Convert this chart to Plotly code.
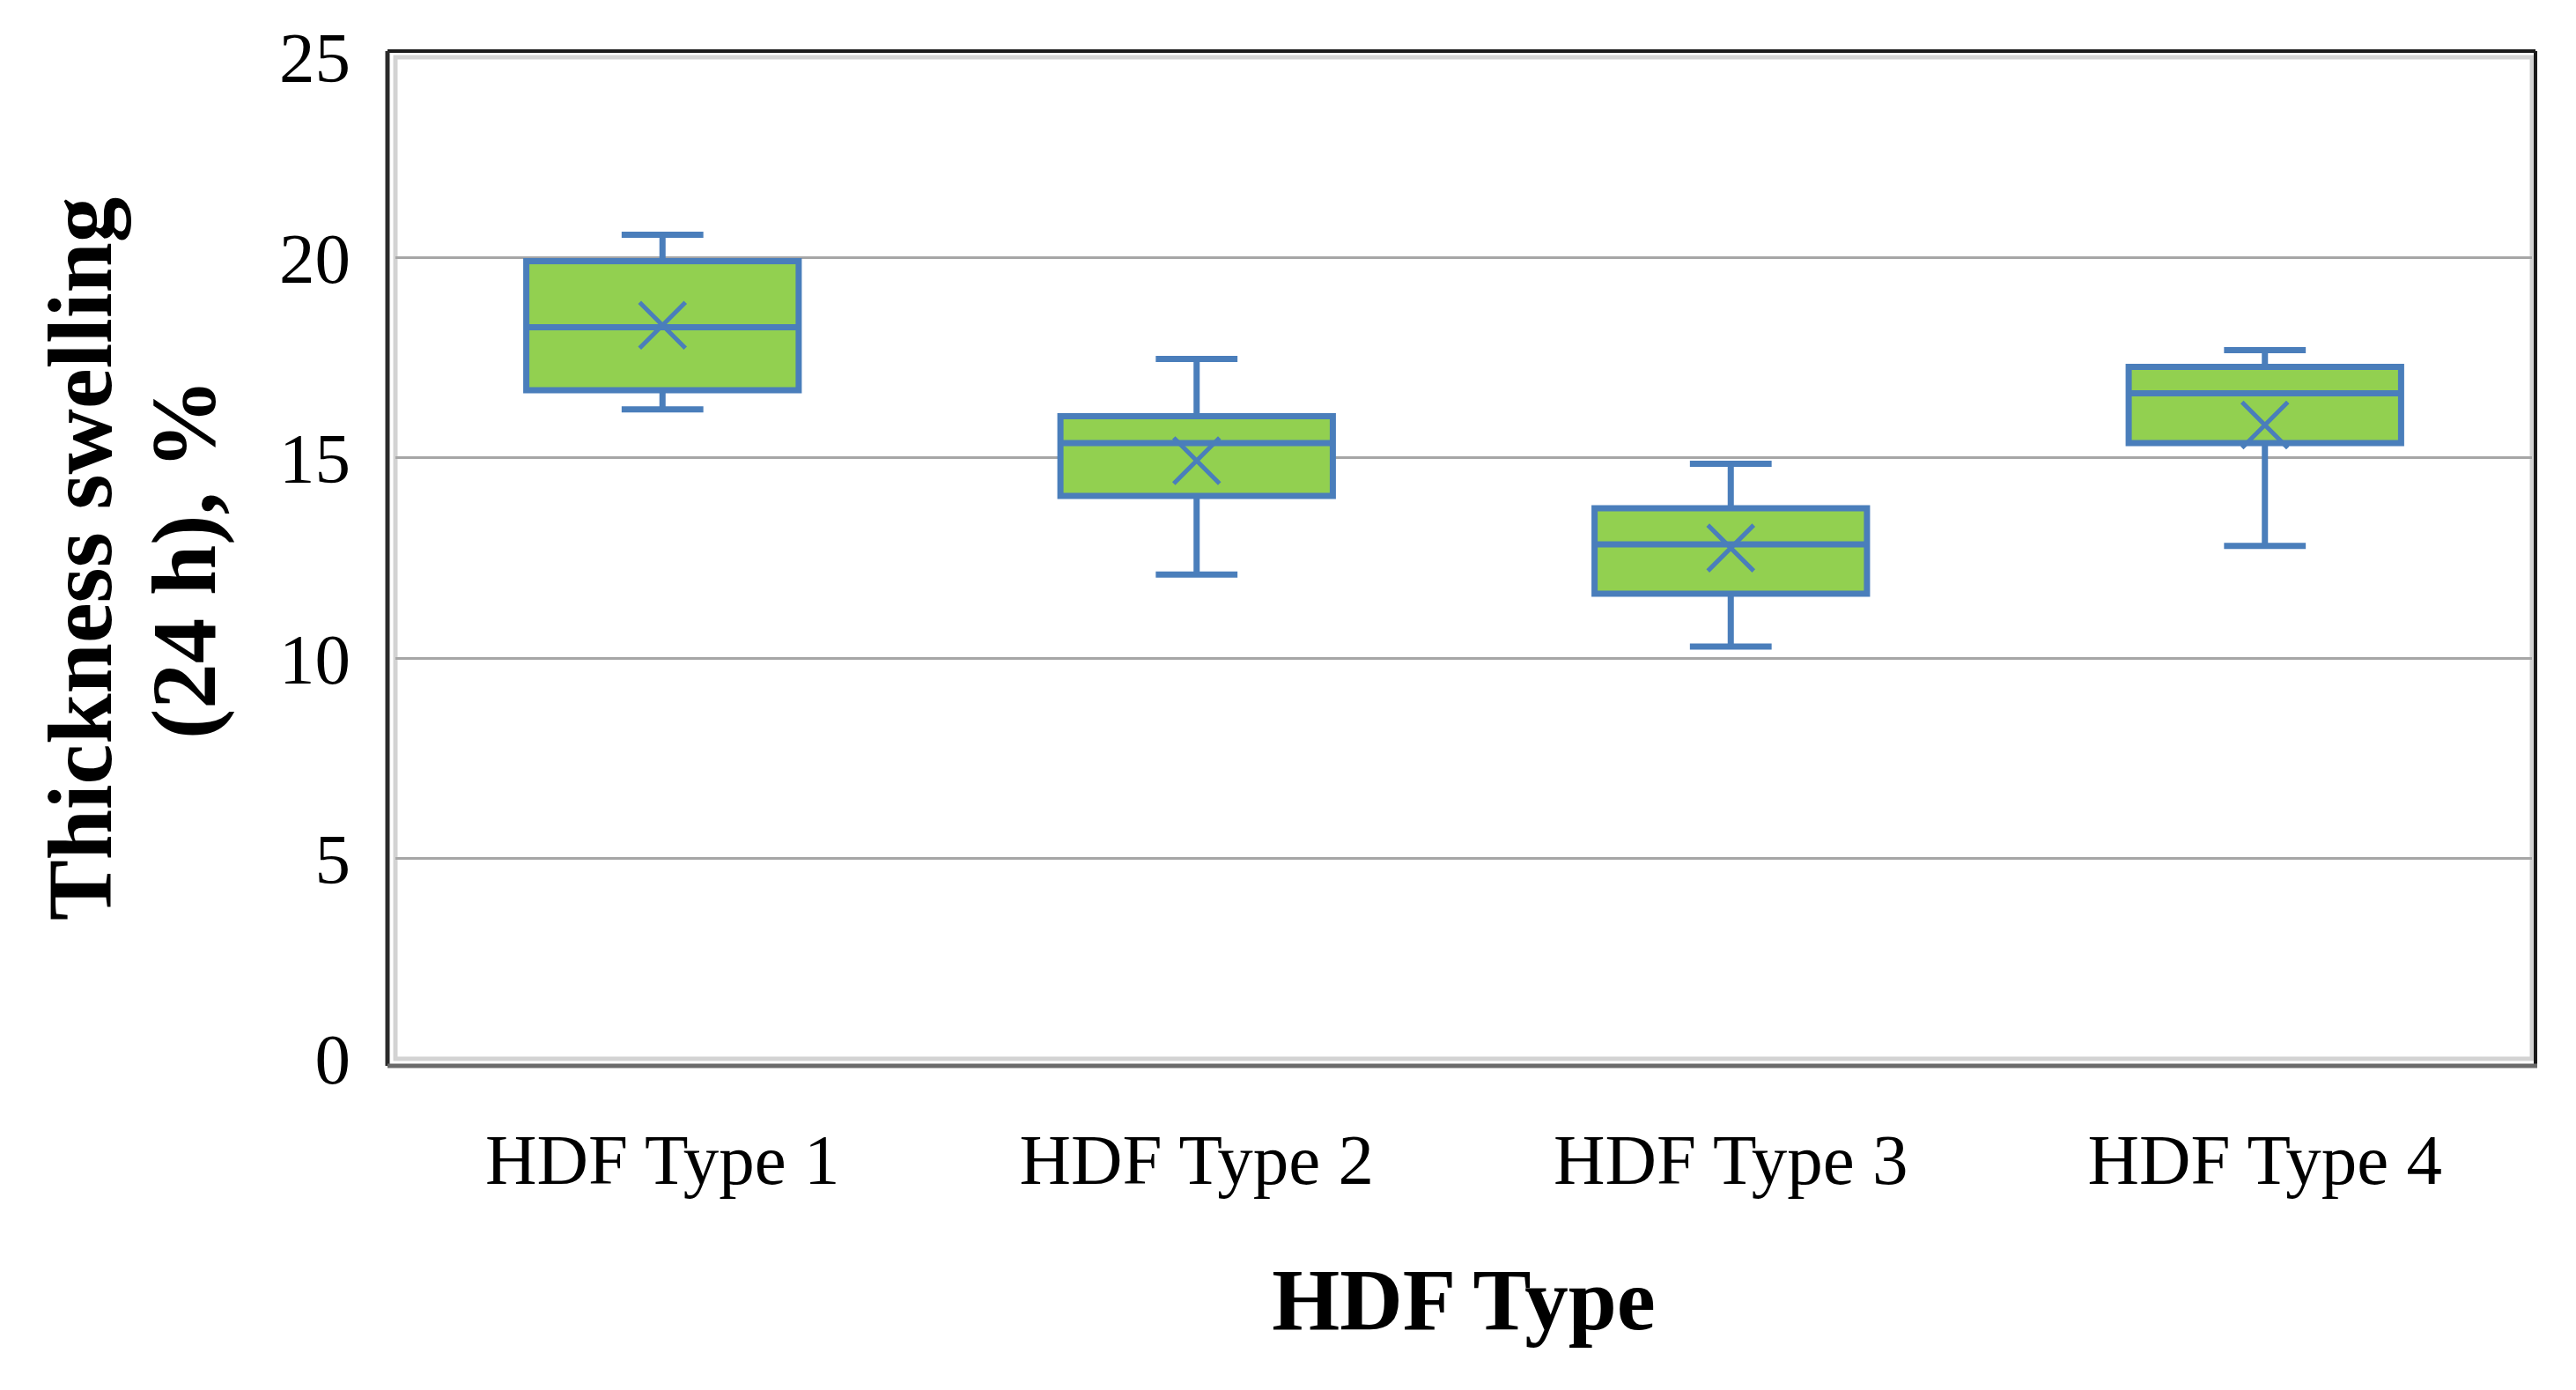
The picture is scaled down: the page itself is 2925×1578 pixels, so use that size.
import plotly.graph_objects as go

categories = ["HDF Type 1", "HDF Type 2", "HDF Type 3", "HDF Type 4"]
lower_whisker = [16.21, 12.09, 10.29, 12.80]
q1_values = [16.69, 14.05, 11.61, 15.37]
median_values = [18.26, 15.37, 12.84, 16.61]
q3_values = [19.91, 16.04, 13.74, 17.27]
upper_whisker = [20.57, 17.47, 14.85, 17.69]
mean_values = [18.31, 14.93, 12.75, 15.82]
y_ticks = [0, 5, 10, 15, 20, 25]

W, H = 2925, 1578
DX, DY = -11, -7
L, R, T, B = 452 + DX, 47 - DX, 64 + DY, 377 - DY
PW, PH = W - L - R, H - T - B

def px(x):
    return (x + DX - L) / PW

def py(y):
    return (H - B - (y + DY)) / PH

FONT = "Liberation Serif"
BLUE = "#4A7EBB"
GREEN = "#92D050"

fig = go.Figure()
fig.add_trace(go.Box(
    x=categories,
    q1=q1_values, median=median_values, q3=q3_values,
    lowerfence=lower_whisker, upperfence=upper_whisker,
    boxpoints=False,
    fillcolor=GREEN,
    line=dict(color=BLUE, width=7),
    width=0.51,
    whiskerwidth=0.3,
    showlegend=False,
    hoverinfo="skip",
))
fig.add_trace(go.Scatter(
    x=categories, y=mean_values, mode="markers",
    marker=dict(symbol="x-thin", size=52, line=dict(color=BLUE, width=5)),
    showlegend=False, hoverinfo="skip",
))

shapes = []
shapes.append(dict(type="rect", xref="paper", yref="paper", x0=0, x1=1, y0=0, y1=1,
                   line=dict(color="#D3D3D3", width=5), layer="below"))
shapes.append(dict(type="line", xref="paper", yref="paper", x0=px(443), x1=px(2882), y0=py(57), y1=py(57),
                   line=dict(color="#1A1A1A", width=4)))
shapes.append(dict(type="line", xref="paper", yref="paper", x0=px(2882), x1=px(2882), y0=py(57), y1=py(1209),
                   line=dict(color="#1A1A1A", width=4)))
shapes.append(dict(type="line", xref="paper", yref="paper", x0=px(443), x1=px(443), y0=py(57), y1=py(1209),
                   line=dict(color="#2A2A2A", width=5)))
shapes.append(dict(type="line", xref="paper", yref="paper", x0=px(443), x1=px(2884), y0=py(1209), y1=py(1209),
                   line=dict(color="#6A6A6A", width=5)))

fig.update_layout(
    width=W, height=H,
    margin=dict(l=L, r=R, t=T, b=B, pad=0),
    paper_bgcolor="white", plot_bgcolor="white",
    font=dict(family=FONT, color="black", size=80),
    shapes=shapes,
    xaxis=dict(
        showgrid=False, zeroline=False, showline=False, ticks="",
        tickfont=dict(family=FONT, size=81, color="black"),
        ticklabelstandoff=60,
        range=[-0.5, 3.5],
        title=dict(text="<b>HDF Type</b>", font=dict(family=FONT, size=99, color="black"), standoff=78),
    ),
    yaxis=dict(
        range=[0, 25], tickvals=y_ticks, ticktext=[str(v) for v in y_ticks],
        showgrid=True, gridcolor="#A6A6A6", gridwidth=3,
        zeroline=False, showline=False, ticks="",
        tickfont=dict(family=FONT, size=81, color="black"),
        ticklabelstandoff=50,
    ),
    annotations=[
        dict(text="<b>Thickness swelling</b>", xref="paper", yref="paper",
             x=px(94), y=py(634), textangle=-90, showarrow=False,
             font=dict(family=FONT, size=103, color="black"), xanchor="center", yanchor="middle"),
        dict(text="<b>(24 h), %</b>", xref="paper", yref="paper",
             x=px(212), y=py(634), textangle=-90, showarrow=False,
             font=dict(family=FONT, size=103, color="black"), xanchor="center", yanchor="middle"),
    ],
)

fig.write_html("out.html")
